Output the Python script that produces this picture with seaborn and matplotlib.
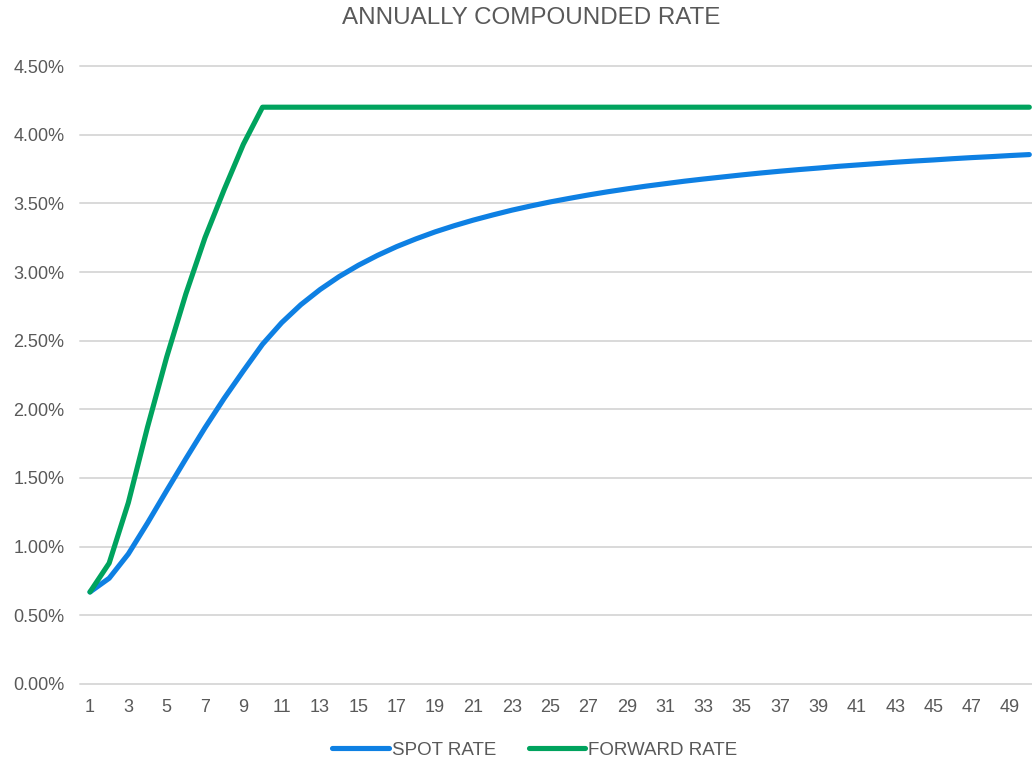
import pandas as pd
import seaborn as sns
import matplotlib.pyplot as plt
from matplotlib.ticker import FuncFormatter

years = list(range(1, 51))

# values in percent
spot_rate = [0.670, 0.770, 0.947, 1.172, 1.408, 1.640, 1.866, 2.080, 2.280, 2.474,
             2.631, 2.762, 2.872, 2.967, 3.049, 3.121, 3.185, 3.241, 3.292, 3.337,
             3.378, 3.415, 3.450, 3.481, 3.510, 3.536, 3.561, 3.584, 3.605, 3.625,
             3.643, 3.661, 3.677, 3.692, 3.707, 3.721, 3.734, 3.746, 3.757, 3.769,
             3.779, 3.789, 3.799, 3.808, 3.816, 3.825, 3.833, 3.840, 3.848, 3.855]
forward_rate = [0.67, 0.88, 1.32, 1.87, 2.38, 2.84, 3.25, 3.60, 3.93, 4.20,
                4.20, 4.20, 4.20, 4.20, 4.20, 4.20, 4.20, 4.20, 4.20, 4.20,
                4.20, 4.20, 4.20, 4.20, 4.20, 4.20, 4.20, 4.20, 4.20, 4.20,
                4.20, 4.20, 4.20, 4.20, 4.20, 4.20, 4.20, 4.20, 4.20, 4.20,
                4.20, 4.20, 4.20, 4.20, 4.20, 4.20, 4.20, 4.20, 4.20, 4.20]
series_names = ['SPOT RATE', 'FORWARD RATE']
x_ticks = list(range(1, 50, 2))
y_ticks = [0, 0.5, 1.0, 1.5, 2.0, 2.5, 3.0, 3.5, 4.0, 4.5]

df = pd.DataFrame({'Year': years, series_names[0]: spot_rate, series_names[1]: forward_rate})
long = df.melt(id_vars='Year', var_name='Series', value_name='Rate')

sns.set_theme(style='white')
plt.rcParams['font.family'] = ['Liberation Sans', 'DejaVu Sans']
text_color = '#595959'
grid_color = '#D9D9D9'
colors = ['#0E80E3', '#00A35E']

fig = plt.figure(figsize=(10.32, 7.63), dpi=100)
ax = fig.add_axes([80.4 / 1032, 79 / 763, 958.5 / 1032, 618 / 763])

sns.lineplot(data=long, x='Year', y='Rate', hue='Series', hue_order=series_names,
             palette=colors, linewidth=3.7, ax=ax, legend=False,
             solid_capstyle='round', solid_joinstyle='round')

ax.set_xlim(0.5, 50.5)
ax.set_ylim(0, 4.5)
ax.set_xticks(x_ticks)
ax.set_yticks(y_ticks)
ax.yaxis.set_major_formatter(FuncFormatter(lambda v, _: f'{v:.2f}%'))
ax.tick_params(axis='both', length=0, labelsize=13, labelcolor=text_color)
ax.tick_params(axis='y', pad=11.5)
ax.tick_params(axis='x', pad=10.5)
ax.set_xlabel('')
ax.set_ylabel('')
for s in ax.spines.values():
    s.set_visible(False)
for v in y_ticks:
    ax.axhline(v, color=grid_color, linewidth=1.4, zorder=0, clip_on=False)

fig.text(531.5 / 1032, 1 - 18 / 763, 'ANNUALLY COMPOUNDED RATE', ha='center', va='center',
         fontsize=17.4, color=text_color)

handles = [plt.Line2D([], [], color=c, linewidth=3.7, solid_capstyle='round') for c in colors]
fig.legend(handles, series_names, loc='center', bbox_to_anchor=(535 / 1032, 1 - 750 / 763),
           ncol=2, frameon=False, fontsize=13.5, handlelength=3.0, handletextpad=0.2,
           columnspacing=1.7, labelcolor=text_color)

plt.savefig('out.png', dpi=100)
